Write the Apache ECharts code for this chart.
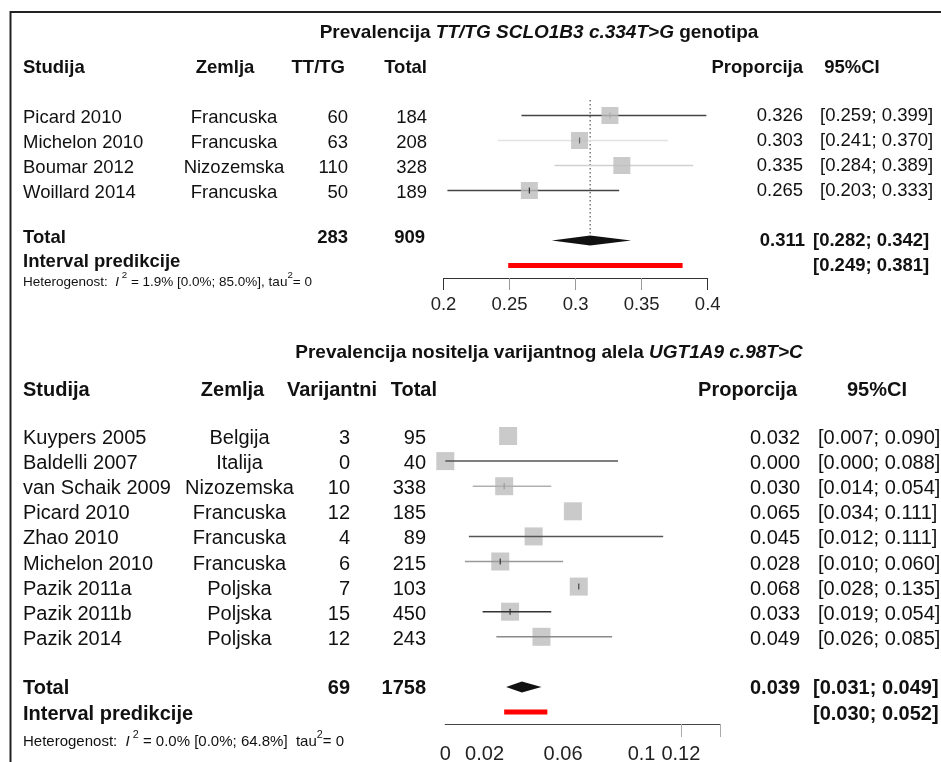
<!DOCTYPE html>
<html><head><meta charset="utf-8">
<script src="https://cdn.jsdelivr.net/npm/echarts@6/dist/echarts.min.js"></script>
<style>html,body{margin:0;padding:0;background:#fff}#c{width:941px;height:762px}</style>
</head><body><div id="c"></div>
<script>
// ---------- Panel 1 : TT/TG SCLO1B3 c.334T>G ----------
const p1Title = ['Prevalencija ', 'TT/TG SCLO1B3 c.334T>G', ' genotipa'];
const p1Headers = ['Studija', 'Zemlja', 'TT/TG', 'Total', 'Proporcija', '95%CI'];
const p1Studies = ['Picard 2010', 'Michelon 2010', 'Boumar 2012', 'Woillard 2014'];
const p1Countries = ['Francuska', 'Francuska', 'Nizozemska', 'Francuska'];
const p1Events = [60, 63, 110, 50];
const p1Totals = [184, 208, 328, 189];
const p1Prop = [0.326, 0.303, 0.335, 0.265];
const p1Lower = [0.259, 0.241, 0.284, 0.203];
const p1Upper = [0.399, 0.370, 0.389, 0.333];
const p1Sum = [283, 909];
const p1Pooled = [0.311, 0.282, 0.342];
const p1Pred = [0.249, 0.381];
const p1Het = ['1.9%', '0.0%', '85.0%', '0'];
const p1AxisTicks = [0.2, 0.25, 0.3, 0.35, 0.4];
const p1AxisEndTicks = [0.2, 0.4];

// ---------- Panel 2 : UGT1A9 c.98T>C ----------
const p2Title = ['Prevalencija nositelja varijantnog alela ', 'UGT1A9 c.98T>C'];
const p2Headers = ['Studija', 'Zemlja', 'Varijantni', 'Total', 'Proporcija', '95%CI'];
const p2Studies = ['Kuypers 2005', 'Baldelli 2007', 'van Schaik 2009', 'Picard 2010', 'Zhao 2010', 'Michelon 2010', 'Pazik 2011a', 'Pazik 2011b', 'Pazik 2014'];
const p2Countries = ['Belgija', 'Italija', 'Nizozemska', 'Francuska', 'Francuska', 'Francuska', 'Poljska', 'Poljska', 'Poljska'];
const p2Events = [3, 0, 10, 12, 4, 6, 7, 15, 12];
const p2Totals = [95, 40, 338, 185, 89, 215, 103, 450, 243];
const p2Prop = [0.032, 0.000, 0.030, 0.065, 0.045, 0.028, 0.068, 0.033, 0.049];
const p2Lower = [0.007, 0.000, 0.014, 0.034, 0.012, 0.010, 0.028, 0.019, 0.026];
const p2Upper = [0.090, 0.088, 0.054, 0.111, 0.111, 0.060, 0.135, 0.054, 0.085];
const p2Sum = [69, 1758];
const p2Pooled = [0.039, 0.031, 0.049];
const p2Pred = [0.030, 0.052];
const p2Het = ['0.0%', '0.0%', '64.8%', '0'];
const p2AxisLabels = [0, 0.02, 0.06, 0.1, 0.12];
const p2AxisTicks = [0.12, 0.14];

// ---------- styles ----------
const FF = '"Liberation Sans", Arial, Helvetica, sans-serif';
const INK = '#111';
const p1CiColors = ['#444', '#e2e2e2', '#d0d0d0', '#444'];
const p1MarkColors = ['#aaa', '#666', null, '#333'];
const p2CiColors = [null, '#555', '#b0b0b0', null, '#555', '#999', null, '#333', '#8a8a8a'];
const p2MarkColors = [null, null, '#999', null, null, '#333', '#444', '#333', null];

function ci(lo, hi) { return '[' + lo.toFixed(3) + '; ' + hi.toFixed(3) + ']'; }
function tok(size, bold, italic) {
  return { fontSize: size, fontWeight: bold ? 'bold' : 'normal', fontStyle: italic ? 'italic' : 'normal', fontFamily: FF, fill: INK };
}
function T(list, x, r, text, size, align, bold, rich) {
  const st = Object.assign(tok(size, bold, false), { text: text, align: align, verticalAlign: 'middle' });
  if (rich) st.rich = rich;
  list.push({ x: x, r: r, style: st });
}
function hetText(h, comma) {
  return '{n|Heterogenost:  }{i|I}{s| 2}{n| = ' + h[0] + ' [' + h[1] + '; ' + h[2] + ']' + (comma ? ', ' : '  ') + 'tau}{s|2}{n|= ' + h[3] + '}';
}
function hetRich(size) {
  return {
    n: Object.assign(tok(size, false, false), { lineHeight: size + 10 }),
    i: Object.assign(tok(size, false, true), { lineHeight: size + 10 }),
    s: Object.assign(tok(size * 0.72, false, false), { verticalAlign: 'top', lineHeight: size * 0.72 + 2 })
  };
}

// ---------- text items panel 1 ----------
const t1 = [];
const S1 = 18.5;
T(t1, 539, -3.3, '{b|' + p1Title[0] + '}{bi|' + p1Title[1] + '}{b|' + p1Title[2] + '}', 19, 'center', true,
  { b: tok(19, true, false), bi: tok(19, true, true) });
T(t1, 23, -1.9, p1Headers[0], S1, 'left', true);
T(t1, 225, -1.9, p1Headers[1], S1, 'center', true);
T(t1, 345, -1.9, p1Headers[2], S1, 'right', true);
T(t1, 427, -1.9, p1Headers[3], S1, 'right', true);
T(t1, 803, -1.9, p1Headers[4], S1, 'right', true);
T(t1, 852, -1.9, p1Headers[5], S1, 'center', true);
p1Studies.forEach((s, i) => {
  T(t1, 23, i + 0.1, s, S1, 'left', false);
  T(t1, 234, i + 0.1, p1Countries[i], S1, 'center', false);
  T(t1, 348, i + 0.1, String(p1Events[i]), S1, 'right', false);
  T(t1, 427, i + 0.1, String(p1Totals[i]), S1, 'right', false);
  T(t1, 803, i, p1Prop[i].toFixed(3), S1, 'right', false);
  T(t1, 820, i, ci(p1Lower[i], p1Upper[i]), S1, 'left', false);
});
T(t1, 23, 4.9, 'Total', S1, 'left', true);
T(t1, 348, 4.9, String(p1Sum[0]), S1, 'right', true);
T(t1, 425, 4.9, String(p1Sum[1]), S1, 'right', true);
T(t1, 805, 5.02, p1Pooled[0].toFixed(3), S1, 'right', true);
T(t1, 813, 5.02, ci(p1Pooled[1], p1Pooled[2]), S1, 'left', true);
T(t1, 23, 5.84, 'Interval predikcije', S1, 'left', true);
T(t1, 813, 6, ci(p1Pred[0], p1Pred[1]), S1, 'left', true);
T(t1, 23, 6.66, hetText(p1Het, true), 13.5, 'left', false, hetRich(13.5));

// ---------- text items panel 2 ----------
const t2 = [];
const S2 = 20;
T(t2, 549, -3.31, '{b|' + p2Title[0] + '}{bi|' + p2Title[1] + '}', 19, 'center', true,
  { b: tok(19, true, false), bi: tok(19, true, true) });
T(t2, 23, -1.83, p2Headers[0], S2, 'left', true);
T(t2, 232.5, -1.83, p2Headers[1], S2, 'center', true);
T(t2, 377, -1.83, p2Headers[2], S2, 'right', true);
T(t2, 437, -1.83, p2Headers[3], S2, 'right', true);
T(t2, 797, -1.83, p2Headers[4], S2, 'right', true);
T(t2, 877, -1.83, p2Headers[5], S2, 'center', true);
p2Studies.forEach((s, i) => {
  T(t2, 23, i + 0.1, s, S2, 'left', false);
  T(t2, 239.5, i + 0.1, p2Countries[i], S2, 'center', false);
  T(t2, 350, i + 0.1, String(p2Events[i]), S2, 'right', false);
  T(t2, 426, i + 0.1, String(p2Totals[i]), S2, 'right', false);
  T(t2, 800, i + 0.1, p2Prop[i].toFixed(3), S2, 'right', false);
  T(t2, 818, i + 0.1, ci(p2Lower[i], p2Upper[i]), S2, 'left', false);
});
T(t2, 23, 10.05, 'Total', S2, 'left', true);
T(t2, 350, 10.05, String(p2Sum[0]), S2, 'right', true);
T(t2, 426, 10.05, String(p2Sum[1]), S2, 'right', true);
T(t2, 800, 10.05, p2Pooled[0].toFixed(3), S2, 'right', true);
T(t2, 813, 10.05, ci(p2Pooled[1], p2Pooled[2]), S2, 'left', true);
T(t2, 23, 11.1, 'Interval predikcije', S2, 'left', true);
T(t2, 813, 11.1, ci(p2Pred[0], p2Pred[1]), S2, 'left', true);
T(t2, 23, 12.18, hetText(p2Het, false), 15, 'left', false, hetRich(15));

// ---------- render helpers ----------
function textSeries(items, axisIdx) {
  return {
    type: 'custom', xAxisIndex: axisIdx, yAxisIndex: axisIdx, clip: false, silent: true, z: 5,
    data: items.map((t, i) => [t.x, t.r, i]),
    renderItem: function (params, api) {
      const t = items[params.dataIndex];
      const p = api.coord([api.value(0), api.value(1)]);
      return { type: 'text', x: p[0], y: p[1], style: t.style };
    }
  };
}
function ciSeries(lower, upper, colors, axisIdx, z) {
  return {
    type: 'custom', xAxisIndex: axisIdx, yAxisIndex: axisIdx, silent: true, z: z, clip: false,
    data: lower.map((l, i) => [l, upper[i], i]),
    renderItem: function (params, api) {
      const c = colors[params.dataIndex];
      if (!c) return null;
      const a = api.coord([api.value(0), api.value(2)]);
      const b = api.coord([api.value(1), api.value(2)]);
      return { type: 'line', shape: { x1: a[0], y1: a[1], x2: b[0], y2: b[1] }, style: { stroke: c, lineWidth: 1.5 } };
    }
  };
}
function markSeries(prop, colors, axisIdx) {
  return {
    type: 'custom', xAxisIndex: axisIdx, yAxisIndex: axisIdx, silent: true, z: 6, clip: false,
    data: prop.map((p, i) => [p, i]),
    renderItem: function (params, api) {
      const c = colors[params.dataIndex];
      if (!c) return null;
      const a = api.coord([api.value(0), api.value(1)]);
      return { type: 'line', shape: { x1: a[0], y1: a[1] - 3, x2: a[0], y2: a[1] + 3 }, style: { stroke: c, lineWidth: 1.2 } };
    }
  };
}
function squareSeries(prop, axisIdx, size, z) {
  return {
    type: 'scatter', xAxisIndex: axisIdx, yAxisIndex: axisIdx, symbol: 'rect', symbolSize: size, z: z, silent: true, clip: false,
    itemStyle: { color: '#bdbdbd' },
    data: prop.map((p, i) => [p, i])
  };
}
function diamondSeries(pooled, row, axisIdx, half) {
  return {
    type: 'custom', xAxisIndex: axisIdx, yAxisIndex: axisIdx, silent: true, z: 6, clip: false,
    data: [[pooled[0], pooled[1], pooled[2], row]],
    renderItem: function (params, api) {
      const r = api.value(3);
      const c = api.coord([api.value(0), r]);
      const l = api.coord([api.value(1), r]);
      const h = api.coord([api.value(2), r]);
      return { type: 'polygon', shape: { points: [[l[0], l[1]], [c[0], c[1] - half], [h[0], h[1]], [c[0], c[1] + half]] }, style: { fill: '#111' } };
    }
  };
}
function predSeries(pred, row, axisIdx) {
  return {
    type: 'custom', xAxisIndex: axisIdx, yAxisIndex: axisIdx, silent: true, z: 6, clip: false,
    data: [[pred[0], pred[1], row]],
    renderItem: function (params, api) {
      const a = api.coord([api.value(0), api.value(2)]);
      const b = api.coord([api.value(1), api.value(2)]);
      return { type: 'line', shape: { x1: a[0], y1: a[1], x2: b[0], y2: b[1] }, style: { stroke: '#ff0000', lineWidth: 5 } };
    }
  };
}
function refLineSeries(est, r0, r1, axisIdx) {
  return {
    type: 'custom', xAxisIndex: axisIdx, yAxisIndex: axisIdx, silent: true, z: 1, clip: false,
    data: [[est, r0, r1]],
    renderItem: function (params, api) {
      const a = api.coord([api.value(0), api.value(1)]);
      const b = api.coord([api.value(0), api.value(2)]);
      return { type: 'line', shape: { x1: a[0], y1: a[1], x2: b[0], y2: b[1] }, style: { stroke: '#333', lineWidth: 1, lineDash: [1.5, 2.5] } };
    }
  };
}

const hiddenX = { type: 'value', min: 0, max: 941, show: false };
const chart = echarts.init(document.getElementById('c'), null, { renderer: 'canvas' });
chart.setOption({
  animation: false,
  backgroundColor: '#fff',
  grid: [
    { left: 443.5, width: 264.2, top: 15.5, height: 262.5, outerBoundsMode: 'none', containLabel: false },
    { left: 0, width: 941, top: 15.5, height: 287.5, outerBoundsMode: 'none', containLabel: false },
    { left: 445.3, width: 274.8, top: 335.6, height: 388.4, outerBoundsMode: 'none', containLabel: false },
    { left: 0, width: 941, top: 335.6, height: 426.7, outerBoundsMode: 'none', containLabel: false }
  ],
  xAxis: [
    {
      gridIndex: 0, type: 'value', min: 0.2, max: 0.4, interval: 0.05, position: 'bottom',
      splitLine: { show: false },
      axisLine: { show: true, onZero: false, lineStyle: { color: '#333', width: 1 } },
      axisTick: { show: true, length: 12, customValues: p1AxisTicks, lineStyle: { color: '#999', width: 1 } },
      axisLabel: { show: true, customValues: p1AxisTicks, margin: 17, fontSize: 18.5, fontFamily: FF, color: '#222',
        formatter: v => String(+(+v).toFixed(2)) }
    },
    Object.assign({ gridIndex: 1 }, hiddenX),
    {
      gridIndex: 2, type: 'value', min: 0, max: 0.14, interval: 0.02, position: 'bottom',
      splitLine: { show: false },
      axisLine: { show: true, onZero: false, lineStyle: { color: '#444', width: 1.2 } },
      axisTick: { show: true, length: 13, customValues: p2AxisTicks, lineStyle: { color: '#aaa', width: 1 } },
      axisLabel: { show: true, customValues: p2AxisLabels, margin: 20, fontSize: 20, fontFamily: FF, color: '#222',
        formatter: v => String(+(+v).toFixed(2)) }
    },
    Object.assign({ gridIndex: 3 }, hiddenX),
    {
      gridIndex: 0, type: 'value', min: 0.2, max: 0.4, interval: 0.05, position: 'bottom',
      splitLine: { show: false },
      axisLine: { show: false, onZero: false },
      axisTick: { show: true, length: 12, customValues: p1AxisEndTicks, lineStyle: { color: '#333', width: 1 } },
      axisLabel: { show: false }
    }
  ],
  yAxis: [
    { gridIndex: 0, type: 'value', inverse: true, min: -4, max: 6.5, show: false },
    { gridIndex: 1, type: 'value', inverse: true, min: -4, max: 7.5, show: false },
    { gridIndex: 2, type: 'value', inverse: true, min: -4, max: 11.474, show: false },
    { gridIndex: 3, type: 'value', inverse: true, min: -4, max: 13, show: false }
  ],
  graphic: [{
    type: 'polyline', silent: true, z: 10,
    shape: { points: [[10.5, 762], [10.5, 12], [941, 12]] },
    style: { stroke: '#222', lineWidth: 2, fill: null }
  }],
  series: [
    refLineSeries(p1Pooled[0], -0.62, 4.8, 0),
    ciSeries(p1Lower, p1Upper, p1CiColors, 0, 2),
    squareSeries(p1Prop, 0, 17, 3),
    markSeries(p1Prop, p1MarkColors, 0),
    diamondSeries(p1Pooled, 5, 0, 5),
    predSeries(p1Pred, 6, 0),
    textSeries(t1, 1),
    squareSeries(p2Prop, 2, 18, 2),
    ciSeries(p2Lower, p2Upper, p2CiColors, 2, 3),
    markSeries(p2Prop, p2MarkColors, 2),
    diamondSeries(p2Pooled, 10, 2, 5.5),
    predSeries(p2Pred, 11, 2),
    textSeries(t2, 3)
  ]
});
</script></body></html>
